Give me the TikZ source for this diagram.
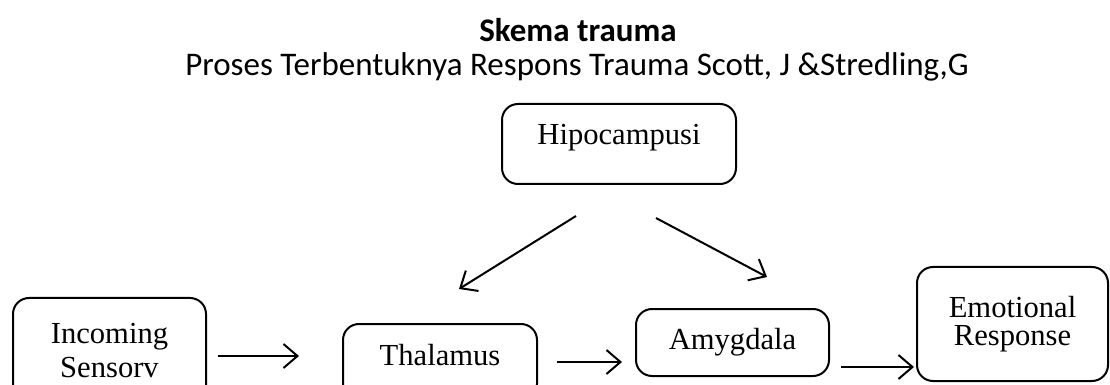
\documentclass[tikz,border=0pt]{standalone}
\usepackage{fontspec}
\setmainfont{Liberation Serif}
\newfontfamily\titlefont{Carlito}
\usetikzlibrary{arrows.meta}

\begin{document}
\begin{tikzpicture}[x=0.5pt,y=-0.5pt,
    box/.style={draw,rounded corners=8pt,line width=1pt,align=center,
      inner sep=0pt,font=\fontsize{15.3}{14}\selectfont},
    arr/.style={-{Straight Barb[length=7pt,width=12pt]},line width=1pt}]
  \useasboundingbox (0,0) rectangle (1110,385);
  \node[font=\titlefont\bfseries\fontsize{16.5}{18}\selectfont] (title) at (578,30) {Skema trauma};
  \node[font=\titlefont\fontsize{16.5}{18}\selectfont] (subtitle) at (577,67)
    {Proses Terbentuknya Respons Trauma Scott, J \&Stredling,G};
  \node[box,minimum width=117pt,minimum height=40pt,text depth=9.4pt] (hipo) at (619,144) {Hipocampusi};
  \node[box,minimum width=96.5pt,minimum height=52.5pt] (sens) at (109.5,350.5) {Incoming\\[3pt]Sensorv};
  \node[box,minimum width=97pt,minimum height=38pt,text depth=7pt] (thal) at (440,362) {Thalamus};
  \node[box,minimum width=96.5pt,minimum height=33.5pt] (amyg) at (732.5,342.5) {Amygdala};
  \node[box,minimum width=95.5pt,minimum height=57pt] (emot) at (1012.5,324) {Emotional\\Response};
  % flow
  \draw[arr] ([shift={(5.5pt,-2.75pt)}]sens.east) -- ([shift={(-21.5pt,3pt)}]thal.west);
  \draw[arr] ([xshift=9.5pt]thal.east) -- ([shift={(-6.5pt,-9.75pt)}]amyg.west);
  \draw[arr] ([shift={(5.5pt,-12.25pt)}]amyg.east) -- ([shift={(-1pt,-21.5pt)}]emot.west);
  \draw[arr] ([shift={(-21.5pt,-15.5pt)}]hipo.south) -- ([shift={(9.5pt,17pt)}]thal.north);
  \draw[arr] ([shift={(18.5pt,-16.5pt)}]hipo.south) -- ([shift={(17.25pt,15.5pt)}]amyg.north);
\end{tikzpicture}
\end{document}
